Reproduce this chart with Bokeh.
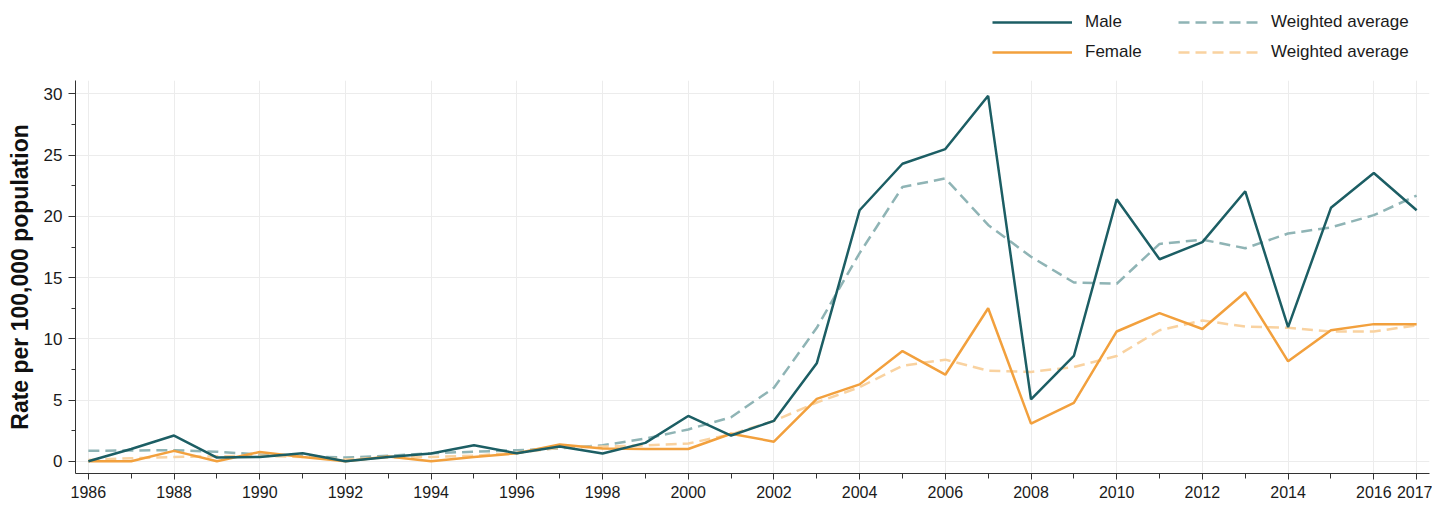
from bokeh.plotting import figure
from bokeh.layouts import column
from bokeh.models import (ColumnDataSource, FixedTicker, Range1d, Legend, LegendItem)
from bokeh.embed import file_html
from bokeh.resources import INLINE

years = list(range(1986, 2018))
male = [0, 1.0, 2.1, 0.3, 0.35, 0.65, 0.0, 0.35, 0.63, 1.3, 0.65, 1.2, 0.63, 1.5, 3.7, 2.1,
        3.3, 8.0, 20.5, 24.3, 25.5, 29.85, 5.05, 8.6, 21.4, 16.5, 17.9, 22.05, 10.95, 20.7, 23.55, 20.5]
female = [0, 0, 0.85, 0, 0.76, 0.35, 0, 0.38, 0, 0.35, 0.65, 1.37, 1.05, 1.0, 1.0, 2.25,
          1.6, 5.1, 6.28, 9.0, 7.07, 12.5, 3.07, 4.76, 10.6, 12.1, 10.8, 13.8, 8.16, 10.7, 11.2, 11.2]
male_wa = [0.85, 0.88, 0.9, 0.78, 0.55, 0.42, 0.3, 0.45, 0.65, 0.78, 0.9, 1.05, 1.3, 1.85, 2.6, 3.6,
           6.0, 10.9, 17.0, 22.4, 23.1, 19.3, 16.7, 14.6, 14.5, 17.75, 18.1, 17.4, 18.6, 19.1, 20.1, 21.7]
female_wa = [0.1, 0.25, 0.35, 0.4, 0.45, 0.35, 0.15, 0.3, 0.35, 0.45, 0.7, 1.1, 1.2, 1.3, 1.45, 2.2,
             3.3, 4.8, 6.05, 7.8, 8.3, 7.4, 7.3, 7.7, 8.6, 10.7, 11.5, 11.0, 10.9, 10.6, 10.6, 11.1]

series_labels = ["Male", "Weighted average", "Female", "Weighted average"]
series_cols = ["male", "male_wa", "female", "female_wa"]
x_major = list(range(1986, 2017, 2)) + [2017]
x_minor = list(range(1987, 2016, 2))
y_major = [0, 5, 10, 15, 20, 25, 30]
y_minor = [2.5, 7.5, 12.5, 17.5, 22.5, 27.5]

src = ColumnDataSource(dict(year=years, male=male, female=female, male_wa=male_wa, female_wa=female_wa))

MALE = "#1c5e64"
FEMALE = "#f2a03d"
MALE_WA = "#8fb4b5"
FEMALE_WA = "#f9d2a0"
FONT = "Liberation Sans"
DASH = "11 6"

styles = [
    dict(line_color=MALE, line_width=2.5),
    dict(line_color=MALE_WA, line_width=2.5, line_dash=DASH),
    dict(line_color=FEMALE, line_width=2.5),
    dict(line_color=FEMALE_WA, line_width=2.5, line_dash=DASH),
]

# ---- main chart ----
p = figure(width=1432, height=425, output_backend="svg", toolbar_location=None,
           x_range=Range1d(1985.7, 2017.3), y_range=Range1d(-1.0, 31.1),
           min_border_left=75, min_border_right=3, min_border_top=0, min_border_bottom=32)
p.outline_line_color = None

for i in (1, 3, 2, 0):
    p.line("year", series_cols[i], source=src, **styles[i])

p.xaxis.ticker = FixedTicker(ticks=x_major, minor_ticks=x_minor)
p.yaxis.ticker = FixedTicker(ticks=y_major, minor_ticks=y_minor)

for ax in (p.xaxis, p.yaxis):
    ax.axis_line_color = "#333333"
    ax.major_tick_line_color = "#333333"
    ax.minor_tick_line_color = "#333333"
    ax.major_label_text_font = FONT
    ax.major_label_text_color = "#1a1a1a"
    ax.major_tick_in = 0
    ax.minor_tick_in = 0

p.xaxis.major_label_text_font_size = "16px"
p.yaxis.major_label_text_font_size = "17px"
p.xaxis.major_tick_out = 6
p.xaxis.minor_tick_out = 5
p.xaxis.major_label_standoff = 6
p.yaxis.major_tick_out = 7
p.yaxis.minor_tick_out = 4
p.yaxis.major_label_standoff = 6

p.yaxis.axis_label = "Rate per 100,000 population"
p.yaxis.axis_label_text_font = FONT
p.yaxis.axis_label_text_font_style = "bold"
p.yaxis.axis_label_text_font_size = "23px"
p.yaxis.axis_label_text_color = "#111111"
p.yaxis.axis_label_standoff = 8

p.xgrid.grid_line_color = "#ececec"
p.ygrid.grid_line_color = "#ececec"

# ---- legend strip above the chart (same series, drawn outside its visible range) ----
lg = figure(width=1432, height=80, output_backend="svg", toolbar_location=None,
            x_range=Range1d(0, 1), y_range=Range1d(0, 1),
            min_border_left=75, min_border_right=3, min_border_top=0, min_border_bottom=0)
lg.axis.visible = False
lg.grid.visible = False
lg.outline_line_color = None
legend_renderers = [lg.line("year", c, source=src, **st) for c, st in zip(series_cols, styles)]

legend = Legend(items=[LegendItem(label=lab, renderers=[r]) for lab, r in zip(series_labels, legend_renderers)],
                orientation="horizontal", ncols=2, location=(914, 15))
legend.margin = 0
legend.padding = 3
legend.spacing = 10
legend.glyph_width = 80
legend.glyph_height = 20
legend.label_height = 20
legend.label_width = 83
legend.label_standoff = 13
legend.label_text_font = FONT
legend.label_text_font_size = "17px"
legend.label_text_color = "#1a1a1a"
legend.border_line_alpha = 0
legend.background_fill_alpha = 0
lg.add_layout(legend, "center")

layout = column(lg, p, spacing=0)
open("out.html", "w").write(file_html(layout, INLINE))
